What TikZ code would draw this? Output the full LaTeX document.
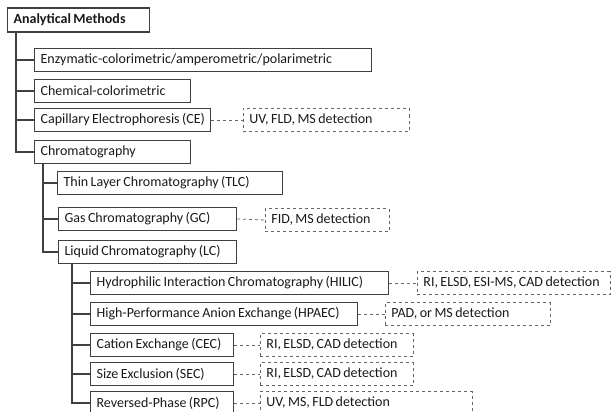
\documentclass[tikz,border=0pt]{standalone}
\usepackage{fontspec}
\setmainfont{Carlito}
\usetikzlibrary{positioning}

\begin{document}
\begin{tikzpicture}
[
    x=1pt, y=-1pt,
    % boxes are placed by their west anchor: (left edge, centre line)
    % the number given to a box style is the width of the box
    font=\fontsize{14}{16}\selectfont
]

%=================================== Start ===================================
\tikzstyle{box}  = [draw=black!75, line width=1.2pt, anchor=west, align=left,
    inner xsep=0pt, inner ysep=0pt, minimum height=23pt, text=black!90,
    text width={#1},
    execute at begin node={\hspace*{6pt}\hbox\bgroup\spaceskip=2.4pt\relax},
    execute at end node={\egroup}]
\tikzstyle{det}  = [box=#1, draw=black!60, line width=0.8pt, dashed]
\tikzstyle{tree} = [draw=black!75, line width=1.2pt]
\tikzstyle{link} = [draw=black!60, line width=0.8pt, dashed]

\useasboundingbox (0,0) rectangle (611,412);

% root
\node[box=142, minimum height=24pt, font=\fontsize{14}{16}\selectfont\bfseries]
    (M) at (7,20) {Analytical Methods};

% first level
\node[box=337] (M-1) at (34,60)  {Enzymatic-colorimetric/amperometric/polarimetric};
\node[box=156] (M-2) at (34,91)  {Chemical-colorimetric};
\node[box=176] (M-3) at (34,120) {Capillary Electrophoresis (CE)};
\node[box=156] (M-4) at (34,152) {Chromatography};
\node[det=166] (D-3) at (243,120) {UV, FLD, MS detection};

% chromatography
\node[box=225] (C-1) at (57,183) {Thin Layer Chromatography (TLC)};
\node[box=178] (C-2) at (58,219) {Gas Chromatography (GC)};
\node[box=178] (C-3) at (58,252) {Liquid Chromatography (LC)};
\node[det=124] (E-2) at (265,220) {FID, MS detection};

% liquid chromatography
\foreach \i / \y / \w / \txt in {
    1/283/298/Hydrophilic Interaction Chromatography (HILIC),
    2/314/267/High-Performance Anion Exchange (HPAEC),
    3/345/143/Cation Exchange (CEC),
    4/374/143/Size Exclusion (SEC),
    5/403/143/Reversed-Phase (RPC)}
    \node[box=\w] (L-\i) at (90,\y) {\txt};

\foreach \i / \x / \w / \txt in {
    1/417/193/{RI, ELSD, ESI-MS, CAD detection},
    2/385/165/{PAD, or MS detection},
    3/260/153/{RI, ELSD, CAD detection},
    4/260/153/{RI, ELSD, CAD detection},
    5/260/212/{UV, MS, FLD detection}}
    \node[det=\w] (F-\i) at (L-\i.west -| \x,0) {\txt};

% trunks
\coordinate (T-0) at ([xshift=9pt]M.south west);
\coordinate (T-1) at ([xshift=9pt]M-4.south west);
\coordinate (T-2) at ([xshift=14pt]C-3.south west);

\foreach \n in {M-1, M-2, M-3, M-4}
    \path[tree] (T-0) |- (\n.west);
\foreach \n in {C-1, C-2, C-3}
    \path[tree] (T-1) |- (\n.west);
\foreach \n in {L-1, L-2, L-3, L-4, L-5}
    \path[tree] (T-2) |- (\n.west);

% detection links
\path[link] (M-3.east) -- (D-3.west);
\path[link] (C-2.east) -- (E-2.west);
\foreach \i in {1,...,5}
    \path[link] (L-\i.east) -- (F-\i.west);
%==================================== END ====================================

\end{tikzpicture}
\end{document}
